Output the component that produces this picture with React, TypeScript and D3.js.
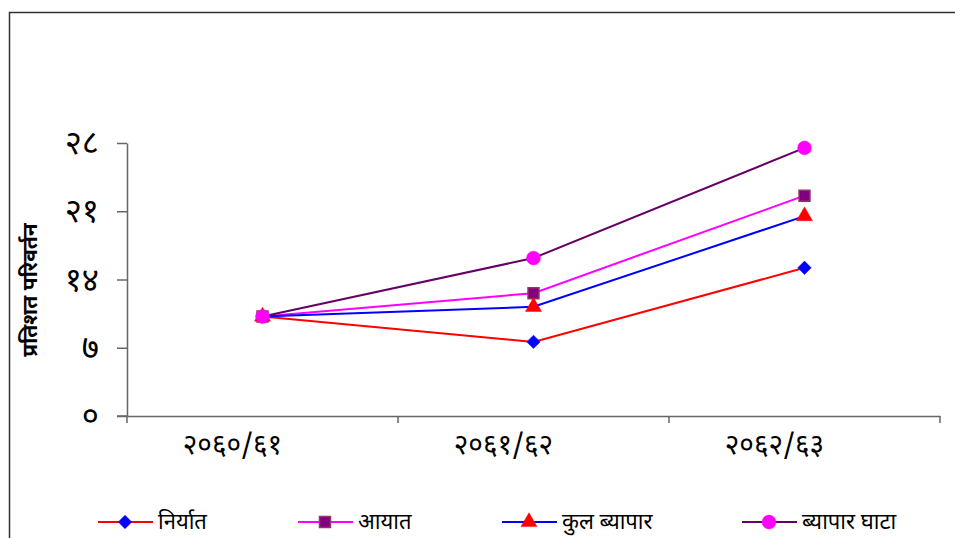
import React, { useEffect, useRef } from "react";
import * as d3 from "d3";

// categories and tick labels
const categories = ["२०६०/६१", "२०६१/६२", "२०६२/६३"];
const yTicks = [0, 7, 14, 21, 28];
const yTickLabels = ["०", "७", "१४", "२१", "२८"];

// series values (percent change)
const niryat = [10.2, 7.6, 15.2];
const ayat = [10.2, 12.6, 22.6];
const kulByapar = [10.2, 11.2, 20.5];
const byaparGhata = [10.2, 16.2, 27.5];

const seriesNames = ["निर्यात", "आयात", "कुल ब्यापार", "ब्यापार घाटा"];

const App = () => {
  const ref = useRef<SVGSVGElement>(null);

  useEffect(() => {
    const width = 955;
    const height = 538;
    const marginLeft = 127;
    const marginRight = 15;
    const marginTop = 143;
    const marginBottom = 122;

    const svg = d3.select(ref.current);
    svg.selectAll("*").remove();

    const font = "'Noto Sans Devanagari', 'Noto Sans', sans-serif";

    // chart frame
    svg
      .append("rect")
      .attr("x", 9.5)
      .attr("y", 12.5)
      .attr("width", 1000)
      .attr("height", 600)
      .attr("fill", "white")
      .attr("stroke", "#333")
      .attr("stroke-width", 1.5);

    const x = d3
      .scaleBand()
      .domain(categories)
      .range([marginLeft, width - marginRight]);

    const y = d3
      .scaleLinear()
      .domain([0, 28])
      .range([height - marginBottom, marginTop]);

    // x axis
    svg
      .append("g")
      .attr("transform", `translate(0,${y(0)})`)
      .call(d3.axisBottom(x).tickSize(0).tickPadding(18).tickSizeOuter(0))
      .call((g) => g.select(".domain").attr("stroke", "#666").attr("stroke-width", 1.5))
      .call((g) =>
        g
          .selectAll(".tick text")
          .attr("font-size", 28)
          .attr("font-family", font)
          .attr("dx", -30)
          .attr("fill", "#000")
      );

    // x boundary ticks
    svg
      .append("g")
      .selectAll("line")
      .data([...categories.map((c) => x(c)!), x(categories[2])! + x.bandwidth()])
      .join("line")
      .attr("x1", (d) => d)
      .attr("x2", (d) => d)
      .attr("y1", y(0))
      .attr("y2", y(0) + 7)
      .attr("stroke", "#666")
      .attr("stroke-width", 1.5);

    // extend x axis line to left tick
    svg
      .append("line")
      .attr("x1", marginLeft - 10)
      .attr("x2", marginLeft)
      .attr("y1", y(0))
      .attr("y2", y(0))
      .attr("stroke", "#666")
      .attr("stroke-width", 1.5);

    // y axis
    svg
      .append("g")
      .attr("transform", `translate(${marginLeft},0)`)
      .call(
        d3
          .axisLeft(y)
          .tickValues(yTicks)
          .tickFormat((d, i) => yTickLabels[i])
          .tickSize(10)
          .tickSizeOuter(0)
          .tickPadding(18)
      )
      .call((g) => g.select(".domain").attr("stroke", "#666").attr("stroke-width", 1.5))
      .call((g) => g.selectAll(".tick line").attr("stroke", "#666").attr("stroke-width", 1.5))
      .call((g) =>
        g
          .selectAll(".tick text")
          .attr("font-size", 33)
          .attr("font-family", font)
          .attr("fill", "#000")
      );

    // y axis label
    svg
      .append("text")
      .attr("transform", `translate(37,290) rotate(-90)`)
      .attr("text-anchor", "middle")
      .attr("font-size", 21)
      .attr("font-weight", "bold")
      .attr("font-family", font)
      .text("प्रतिशत परिवर्तन");

    const cx = (i: number) => x(categories[i])! + x.bandwidth() / 2;

    const series = [
      { name: seriesNames[0], values: niryat, line: "#ff0000", marker: "diamond", fill: "#0000ff", stroke: "#0000ff" },
      { name: seriesNames[1], values: ayat, line: "#ff00ff", marker: "square", fill: "#800080", stroke: "#993366" },
      { name: seriesNames[2], values: kulByapar, line: "#0000ff", marker: "triangle", fill: "#ff0000", stroke: "#ff0000" },
      { name: seriesNames[3], values: byaparGhata, line: "#660066", marker: "circle", fill: "#ff00ff", stroke: "#ff00ff" },
    ];

    const symbolFor = (m: string) => {
      if (m === "diamond") return d3.symbol(d3.symbolSquare, 90)();
      if (m === "square") return d3.symbol(d3.symbolSquare, 120)();
      if (m === "triangle") return d3.symbol(d3.symbolTriangle, 110)();
      return d3.symbol(d3.symbolCircle, 150)();
    };

    const drawMarker = (g: any, m: string, fill: string, stroke: string, px: number, py: number) => {
      g.append("path")
        .attr("d", symbolFor(m))
        .attr(
          "transform",
          m === "diamond" ? `translate(${px},${py}) rotate(45)` : `translate(${px},${py})`
        )
        .attr("fill", fill)
        .attr("stroke", stroke)
        .attr("stroke-width", m === "square" ? 1.5 : 0.5);
    };

    const line = d3
      .line<number>()
      .x((d, i) => cx(i))
      .y((d) => y(d));

    const plot = svg.append("g");
    series.forEach((s) => {
      plot
        .append("path")
        .datum(s.values)
        .attr("fill", "none")
        .attr("stroke", s.line)
        .attr("stroke-width", 2)
        .attr("d", line);
    });
    series.forEach((s) => {
      s.values.forEach((v, i) => drawMarker(plot, s.marker, s.fill, s.stroke, cx(i), y(v)));
    });

    // legend
    const legendX = [98, 298, 502, 742];
    const legendY = 522;
    const legend = svg.append("g");
    series.forEach((s, i) => {
      const lx = legendX[i];
      legend
        .append("line")
        .attr("x1", lx)
        .attr("x2", lx + 55)
        .attr("y1", legendY)
        .attr("y2", legendY)
        .attr("stroke", s.line)
        .attr("stroke-width", 2);
      drawMarker(legend, s.marker, s.fill, s.stroke, lx + 27, legendY);
      legend
        .append("text")
        .attr("x", lx + 60)
        .attr("y", legendY)
        .attr("dy", "0.32em")
        .attr("font-size", 22)
        .attr("font-family", font)
        .text(s.name);
    });
  }, []);

  return (
    <svg
      ref={ref}
      width={955}
      height={538}
      style={{ position: "absolute", left: 0, top: 0, display: "block" }}
    />
  );
};

export default App;
